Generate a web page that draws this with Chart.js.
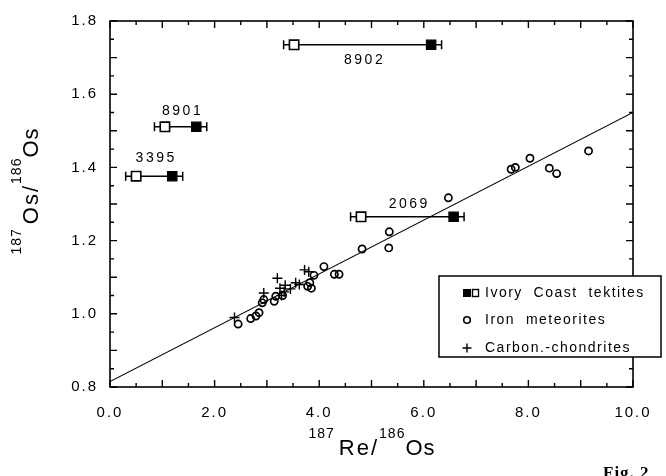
<!DOCTYPE html>
<html><head><meta charset="utf-8">
<script src="https://cdn.jsdelivr.net/npm/chart.js@4/dist/chart.umd.min.js"></script>
<style>html,body{margin:0;padding:0;background:#fff;overflow:hidden}#wrap{width:666px;height:476px;position:relative}</style>
</head><body><div id="wrap"><canvas id="c"></canvas></div>
<script>
// ---- data ----
const xTicks = [0, 2, 4, 6, 8, 10];
const yTicks = [0.8, 1.0, 1.2, 1.4, 1.6, 1.8];
const sampleNames = ['8902', '8901', '3395', '2069'];
const openX   = [3.52, 1.05, 0.50, 4.80];
const filledX = [6.14, 1.65, 1.19, 6.57];
const sampleY = [1.735, 1.511, 1.376, 1.265];
const xErr    = [0.2, 0.2, 0.2, 0.2];
const ironX = [2.45,2.69,2.79,2.85,2.91,2.94,3.14,3.17,3.30,3.78,3.82,3.85,3.90,4.09,4.29,4.38,4.82,5.33,5.34,6.47,7.67,7.75,8.03,8.40,8.54,9.15];
const ironY = [0.972,0.987,0.994,1.003,1.030,1.039,1.034,1.048,1.050,1.075,1.085,1.070,1.105,1.129,1.108,1.108,1.177,1.180,1.224,1.317,1.395,1.400,1.425,1.398,1.383,1.445];
const chondX = [2.38,2.94,3.20,3.25,3.28,3.35,3.45,3.55,3.62,3.72,3.80,3.33];
const chondY = [0.990,1.057,1.097,1.070,1.050,1.078,1.068,1.085,1.080,1.120,1.115,1.060];
const lineX = [0, 10];
const lineY = [0.815, 1.55];
const legendLabels = ['Ivory  Coast  tektites', 'Iron  meteorites', 'Carbon.-chondrites'];

const FONT = '"Liberation Sans", Arial, Helvetica, sans-serif';

const datasets = [];
datasets.push({type:'line', data: lineX.map((x,i)=>({x, y: lineY[i]})), borderColor:'#000', borderWidth:1.1, pointRadius:0, order:10});
sampleNames.forEach((n,i)=>{
  datasets.push({type:'line', data:[{x:openX[i],y:sampleY[i]},{x:filledX[i],y:sampleY[i]}], borderColor:'#000', borderWidth:1.6, pointRadius:0, order:9});
});
datasets.push({type:'scatter', data: ironX.map((x,i)=>({x, y: ironY[i]})), pointStyle:'circle', pointRadius:3.6, borderWidth:1.7, borderColor:'#000', backgroundColor:'rgba(255,255,255,0)', order:5});
datasets.push({type:'scatter', data: chondX.map((x,i)=>({x, y: chondY[i]})), pointStyle:'cross', pointRadius:5, borderWidth:1.4, borderColor:'#000', order:4});
datasets.push({type:'scatter', data: openX.map((x,i)=>({x, y: sampleY[i]})), pointStyle:'rect', pointRadius:6.6, borderWidth:1.6, borderColor:'#000', backgroundColor:'#fff', order:2});
datasets.push({type:'scatter', data: filledX.map((x,i)=>({x, y: sampleY[i]})), pointStyle:'rect', pointRadius:6.6, borderWidth:1.2, borderColor:'#000', backgroundColor:'#000', order:1});

function drawPieces(ctx, pieces, cx, baseY){
  let total = 0;
  pieces.forEach(p=>{ ctx.font = p.size+'px '+FONT; ctx.letterSpacing = (p.ls||0)+'px'; p.w = ctx.measureText(p.t).width; total += p.w + (p.gap||0); });
  let x = cx - total/2;
  ctx.textAlign='left'; ctx.textBaseline='alphabetic';
  pieces.forEach(p=>{ ctx.font = p.size+'px '+FONT; ctx.letterSpacing=(p.ls||0)+'px'; x += (p.gap||0); ctx.fillText(p.t, x, baseY - (p.raise||0)); x += p.w; });
}

const deco = {
  id:'deco',
  beforeDraw(chart){ chart.ctx.letterSpacing = '2px'; },
  beforeDatasetsDraw(chart){
    const ctx = chart.ctx, xs = chart.scales.x, ys = chart.scales.y;
    ctx.save();
    ctx.strokeStyle='#000'; ctx.lineWidth=1.5;
    sampleNames.forEach((n,i)=>{
      const py = ys.getPixelForValue(sampleY[i]);
      const lo = Math.min(openX[i], filledX[i]), hi = Math.max(openX[i], filledX[i]);
      const a = xs.getPixelForValue(lo - xErr[i]), b = xs.getPixelForValue(hi + xErr[i]);
      ctx.beginPath();
      ctx.moveTo(a,py); ctx.lineTo(xs.getPixelForValue(lo),py);
      ctx.moveTo(xs.getPixelForValue(hi),py); ctx.lineTo(b,py);
      ctx.moveTo(a,py-4.5); ctx.lineTo(a,py+4.5);
      ctx.moveTo(b,py-4.5); ctx.lineTo(b,py+4.5);
      ctx.stroke();
    });
    ctx.restore();
  },
  afterDraw(chart){
    const ctx = chart.ctx, xs = chart.scales.x, ys = chart.scales.y, ca = chart.chartArea;
    ctx.save();
    ctx.strokeStyle='#000'; ctx.fillStyle='#000';
    // frame
    ctx.lineWidth=1.6;
    ctx.strokeRect(ca.left, ca.top, ca.right-ca.left, ca.bottom-ca.top);
    // ticks
    ctx.lineWidth=1.4;
    ctx.beginPath();
    for(let k=0;k<=20;k++){
      const v = k*0.5, px = xs.getPixelForValue(v), L = (k%2===0)?7:4;
      ctx.moveTo(px, ca.bottom); ctx.lineTo(px, ca.bottom-L);
      ctx.moveTo(px, ca.top); ctx.lineTo(px, ca.top+L);
    }
    for(let k=0;k<=20;k++){
      const v = 0.8 + k*0.05, py = ys.getPixelForValue(v), L = (k%2===0)?7:4;
      ctx.moveTo(ca.left, py); ctx.lineTo(ca.left+L, py);
      ctx.moveTo(ca.right, py); ctx.lineTo(ca.right-L, py);
    }
    ctx.stroke();
    // sample labels
    const offs = [15, -16, -18, -13];
    ctx.font = '14px '+FONT; ctx.letterSpacing='2.5px'; ctx.textAlign='center'; ctx.textBaseline='middle';
    sampleNames.forEach((n,i)=>{
      const px = xs.getPixelForValue((openX[i]+filledX[i])/2) + 2;
      const py = ys.getPixelForValue(sampleY[i]) + offs[i];
      ctx.fillText(n, px, py);
    });
    // axis titles
    drawPieces(ctx, [{t:'187',size:14,raise:17,ls:1},{t:'Re/',size:22,gap:4,ls:2},{t:'186',size:14,raise:17,ls:1},{t:'Os',size:22,ls:1}], 372, 455);
    ctx.save();
    ctx.translate(38, 191); ctx.rotate(-Math.PI/2);
    drawPieces(ctx, [{t:'187',size:14,raise:17,ls:1},{t:'Os/',size:22,gap:4,ls:2},{t:'186',size:14,raise:17,ls:1},{t:'Os',size:22,ls:1}], 0, 0);
    ctx.restore();
    // legend
    const bx=439, by=276, bw=222, bh=81;
    ctx.fillStyle='#fff'; ctx.fillRect(bx,by,bw,bh);
    ctx.lineWidth=1.5; ctx.strokeStyle='#000'; ctx.strokeRect(bx,by,bw,bh);
    ctx.fillStyle='#000';
    const rows=[293,320,348];
    ctx.fillRect(463,rows[0]-4,8,8);
    ctx.lineWidth=1.4; ctx.strokeRect(472.5,rows[0]-3.5,6,7);
    ctx.beginPath(); ctx.arc(467,rows[1],3.3,0,Math.PI*2); ctx.lineWidth=1.6; ctx.stroke();
    ctx.beginPath(); ctx.moveTo(462.5,rows[2]); ctx.lineTo(471.5,rows[2]); ctx.moveTo(467,rows[2]-4.5); ctx.lineTo(467,rows[2]+4.5); ctx.lineWidth=1.4; ctx.stroke();
    ctx.font='14px '+FONT; ctx.letterSpacing='1.5px'; ctx.textAlign='left'; ctx.textBaseline='middle';
    legendLabels.forEach((t,i)=>ctx.fillText(t, 485, rows[i]));
    // fig label
    ctx.font='bold 17px "Liberation Serif", "Times New Roman", serif'; ctx.letterSpacing='1px';
    ctx.textBaseline='alphabetic';
    ctx.fillText('Fig. 2', 603, 478);
    ctx.restore();
  }
};

new Chart(document.getElementById('c'), {
  data:{datasets},
  options:{
    responsive:true, maintainAspectRatio:false, animation:false,
    layout:{padding:{top:16, right:33, left:0, bottom:0}},
    plugins:{legend:{display:false}, tooltip:{enabled:false}},
    scales:{
      x:{type:'linear', min:0, max:10,
        afterBuildTicks:s=>{s.ticks = xTicks.map(v=>({value:v}));},
        afterFit:s=>{s.height = 89;},
        grid:{display:false, drawTicks:false}, border:{display:false},
        ticks:{padding:17, color:'#000', font:{family:FONT, size:15}, maxRotation:0, autoSkip:false, callback:v=>Number(v).toFixed(1)}},
      y:{type:'linear', min:0.8, max:1.8,
        afterBuildTicks:s=>{s.ticks = yTicks.map(v=>({value:v}));},
        afterFit:s=>{s.width = 110;},
        grid:{display:false, drawTicks:false}, border:{display:false},
        ticks:{padding:12, color:'#000', font:{family:FONT, size:15}, autoSkip:false, callback:v=>Number(v).toFixed(1)}}
    }
  },
  plugins:[deco]
});
</script></body></html>
